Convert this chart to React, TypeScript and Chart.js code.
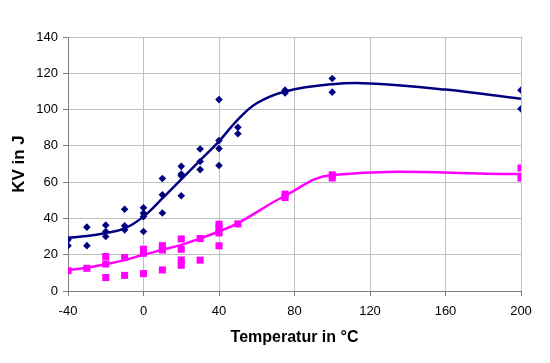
import React, { useEffect, useRef } from "react";
import { Chart, registerables } from "chart.js";
Chart.register(...registerables);

const xTicks = [-40, 0, 40, 80, 120, 160, 200];
const yTicks = [0, 20, 40, 60, 80, 100, 120, 140];

const blueTemps = [-40, -40, -30, -30, -20, -20, -20, -10, -10, -10, 0, 0, 0, 0, 10, 10, 10, 20, 20, 20, 20, 30, 30, 30, 40, 40, 40, 40, 50, 50, 75, 75, 100, 100, 200, 200];
const blueKV = [28.2, 25, 35.2, 25, 36.3, 32.8, 30, 45.1, 36, 33.7, 45.9, 42.9, 41, 32.8, 62, 53, 43, 68.7, 64.5, 63.5, 52.5, 78.3, 71.4, 66.9, 105.5, 82.9, 78.5, 69.2, 90.2, 86.7, 110.7, 109.2, 117.1, 109.6, 110.7, 100.4];

const pinkTemps = [-40, -30, -20, -20, -20, -10, -10, 0, 0, 0, 10, 10, 10, 20, 20, 20, 20, 30, 30, 40, 40, 40, 40, 50, 75, 75, 100, 100, 200, 200];
const pinkKV = [11.2, 12.5, 19, 14.9, 7.4, 18.4, 8.6, 23, 20.8, 9.6, 25, 22.6, 11.6, 28.7, 23, 17.1, 14.2, 28.9, 17, 36.8, 34.6, 32, 24.9, 37, 53.4, 51.5, 64, 62.3, 67.8, 62.3];

const blueCurveT = [-40, -30, -20, -10, 0, 10, 20, 30, 40, 50, 60, 75, 100, 120, 160, 200];
const blueCurveKV = [29.4, 30.3, 32, 34.5, 41, 51, 61.5, 72, 82.5, 94.5, 103.5, 110, 114, 114.4, 111, 106];

const pinkCurveT = [-40, -30, -20, -10, 0, 10, 20, 30, 40, 50, 75, 100, 200];
const pinkCurveKV = [11.5, 12.8, 14.7, 17, 20, 22.7, 25.4, 29, 32.8, 37.4, 52.5, 64, 64.5];

const BLUE = "#000080";
const PINK = "#ff00ff";

const pts = (xs: number[], ys: number[]) => xs.map((x, i) => ({ x, y: ys[i] }));

export default function App() {
  const ref = useRef<HTMLCanvasElement>(null);
  useEffect(() => {
    if (!ref.current) return;
    const font = { family: "'Liberation Sans', Arial, sans-serif", size: 13 };
    const chart = new Chart(ref.current, {
      type: "scatter",
      data: {
        datasets: [
          {
            label: "blue points",
            data: pts(blueTemps, blueKV),
            pointStyle: "rectRot",
            pointRadius: 3.8,
            backgroundColor: BLUE,
            borderColor: BLUE,
            borderWidth: 0,
            showLine: false,
            order: 1,
          },
          {
            label: "pink points",
            data: pts(pinkTemps, pinkKV),
            pointStyle: "rect",
            pointRadius: 5,
            backgroundColor: PINK,
            borderColor: PINK,
            borderWidth: 0,
            showLine: false,
            order: 2,
          },
          {
            label: "blue curve",
            data: pts(blueCurveT, blueCurveKV),
            showLine: true,
            pointRadius: 0,
            borderColor: BLUE,
            borderWidth: 2.5,
            tension: 0.4,
            fill: false,
            order: 3,
          },
          {
            label: "pink curve",
            data: pts(pinkCurveT, pinkCurveKV),
            showLine: true,
            pointRadius: 0,
            borderColor: PINK,
            borderWidth: 2.5,
            tension: 0.4,
            fill: false,
            order: 4,
          },
        ],
      },
      options: {
        animation: false,
        responsive: false,
        devicePixelRatio: 1,
        layout: { padding: { left: 0, top: 37, right: 29, bottom: 0 } },
        plugins: { legend: { display: false }, tooltip: { enabled: false } },
        scales: {
          x: {
            type: "linear",
            min: -40,
            max: 200,
            afterBuildTicks: (s: any) => {
              s.ticks = xTicks.map((v) => ({ value: v }));
            },
            afterFit: (s: any) => {
              s.height = 72;
            },
            grid: { color: "#c0c0c0", tickColor: "#808080", tickLength: 5, lineWidth: 1 },
            border: { color: "#808080", width: 1 },
            ticks: { color: "#000", font, padding: 8, maxRotation: 0 },
            title: {
              display: true,
              text: "Temperatur in °C",
              color: "#000",
              font: { family: "'Liberation Sans', Arial, sans-serif", size: 16, weight: "bold" },
              padding: { top: 0, bottom: 16 },
            },
          },
          y: {
            type: "linear",
            min: 0,
            max: 140,
            afterBuildTicks: (s: any) => {
              s.ticks = yTicks.map((v) => ({ value: v }));
            },
            afterFit: (s: any) => {
              s.width = 68;
            },
            grid: { color: "#c0c0c0", tickColor: "#808080", tickLength: 5, lineWidth: 1 },
            border: { color: "#808080", width: 1 },
            ticks: { color: "#000", font, padding: 5 },
            title: {
              display: true,
              text: "KV in J",
              color: "#000",
              font: { family: "'Liberation Sans', Arial, sans-serif", size: 17, weight: "bold" },
              padding: { top: 9, bottom: 0 },
            },
          },
        },
      },
    } as any);
    return () => chart.destroy();
  }, []);
  return (
    <div style={{ position: "absolute", left: 0, top: 0, width: 550, height: 363, background: "#fff" }}>
      <canvas ref={ref} width={550} height={363} style={{ width: 550, height: 363, display: "block" }} />
    </div>
  );
}
